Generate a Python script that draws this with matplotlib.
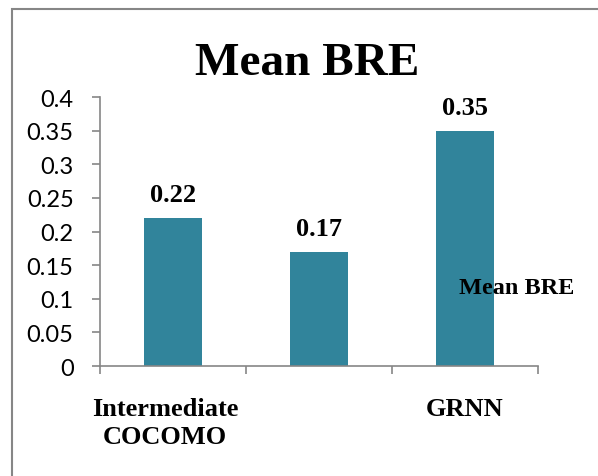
import matplotlib.pyplot as plt
from matplotlib.patches import Rectangle
from matplotlib.ticker import FixedLocator, MultipleLocator
from matplotlib.transforms import ScaledTranslation

# data
categories = ["Intermediate\nCOCOMO", "", "GRNN"]
mean_bre = [0.22, 0.17, 0.35]

bar_color = "#31849B"
axis_grey = "#868686"

fig = plt.figure(figsize=(5.98, 4.77), dpi=100)
ax = fig.add_axes([0.1672, 0.2306, 0.7324, 0.5639])

x = range(len(categories))
bars = ax.bar(x, mean_bre, width=0.4, color=bar_color, label="Mean BRE", zorder=2)

# value labels above bars
for xi, v in zip(x, mean_bre):
    ax.annotate(f"{v:.2f}", (xi, v), xytext=(0, 12), textcoords="offset points",
                ha="center", va="baseline", fontsize=19, fontweight="bold",
                family="Liberation Serif")

ax.set_xlim(-0.5, 2.5)
ax.set_ylim(0, 0.4)
ax.yaxis.set_major_locator(MultipleLocator(0.05))
ax.set_yticklabels([f"{t:g}" for t in ax.get_yticks()], family="Lato", fontsize=17)
ax.tick_params(axis="y", length=6, width=1.2, color=axis_grey, pad=13)

ax.set_xticks(list(x))
ax.set_xticklabels(categories, family="Liberation Serif", fontweight="bold", fontsize=19,
                   linespacing=1.3, va="top")
ax.tick_params(axis="x", which="major", length=0, pad=22)
ax.xaxis.set_minor_locator(FixedLocator([-0.5, 0.5, 1.5, 2.5]))
ax.tick_params(axis="x", which="minor", length=6, width=1.2, color=axis_grey)

# first label sits a bit left of its bar, as in the original
lbl = ax.get_xticklabels()[0]
lbl.set_transform(lbl.get_transform() + ScaledTranslation(-0.08, 0, fig.dpi_scale_trans))

for side in ["top", "right"]:
    ax.spines[side].set_visible(False)
for side in ["left", "bottom"]:
    ax.spines[side].set_color(axis_grey)
    ax.spines[side].set_linewidth(1.2)

# title
fig.text(0.513, 0.843, "Mean BRE", ha="center", va="baseline", fontsize=34,
         fontweight="bold", family="Liberation Serif")

# legend (marker sits on the GRNN bar)
leg = ax.legend(loc="center left", bbox_to_anchor=(0.6983, 0.246, 0.2, 0.3),
                bbox_transform=fig.transFigure, frameon=False, handlelength=0.6,
                handleheight=0.6, handletextpad=0.2,
                prop={"family": "Liberation Serif", "weight": "bold", "size": 17.5})

# chart border (cropped at right/bottom)
fig.patches.append(Rectangle((12 / 598, -0.1), 1.2, 1 - 10 / 477 + 0.1,
                             transform=fig.transFigure, fill=False,
                             edgecolor=axis_grey, linewidth=1.5))

fig.savefig("out.png", dpi=100)
